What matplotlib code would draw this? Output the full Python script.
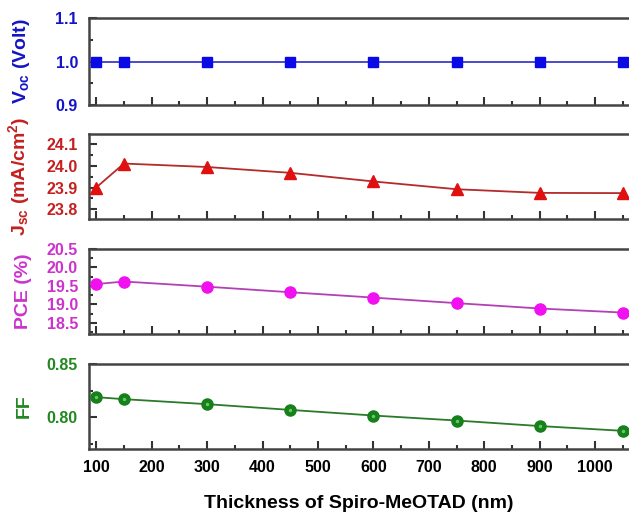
import numpy as np
import matplotlib
matplotlib.use("Agg")
import matplotlib.pyplot as plt
from matplotlib.ticker import MultipleLocator

plt.rcParams['font.family'] = ['Liberation Sans', 'DejaVu Sans']
plt.rcParams['font.weight'] = 'bold'
plt.rcParams['mathtext.fontset'] = 'custom'
plt.rcParams['mathtext.rm'] = 'Liberation Sans:bold'
plt.rcParams['mathtext.bf'] = 'Liberation Sans:bold'
plt.rcParams['mathtext.default'] = 'bf'

# spiro-MeOTAD thickness (nm) and device parameters
thickness = [100, 150, 300, 450, 600, 750, 900, 1050]
voc = [1.0, 1.0, 1.0, 1.0, 1.0, 1.0, 1.0, 1.0]
jsc = [23.90, 24.011, 23.995, 23.968, 23.928, 23.892, 23.875, 23.874]
pce = [19.55, 19.62, 19.48, 19.33, 19.185, 19.035, 18.89, 18.78]
ff = [0.8188, 0.8169, 0.8122, 0.8068, 0.8015, 0.7968, 0.7916, 0.7871]

W, H = 629, 513
fig = plt.figure(figsize=(W / 100, H / 100), dpi=100)

# panel extents in pixels (top, bottom)
rows = [(18, 105), (134, 219), (249, 334), (364, 449)]
left = 89

panels = [
    dict(y=voc, label='V$_{oc}$ (Volt)', marker='s', ms=7, mc='#0a0ae6', lc='#3d3dc8',
         tc='#1414c8', ylim=(0.9, 1.1), major=0.1, minor=0.05, fmt='%.1f'),
    dict(y=jsc, label='J$_{sc}$ (mA/cm$^2$)', marker='^', ms=9, mc='#e01010', lc='#b52a2a',
         tc='#c42020', ylim=(23.754, 24.148), major=0.1, minor=0.05, fmt='%.1f'),
    dict(y=pce, label='PCE (%)', marker='o', ms=8, mc='#f010f0', lc='#b540b5',
         tc='#cc33cc', ylim=(18.2, 20.5), major=0.5, minor=0.25, fmt='%.1f'),
    dict(y=ff, label='FF', marker='o', ms=8, mc='#16801a', lc='#2a7a2a',
         tc='#228822', ylim=(0.77, 0.85), major=0.05, minor=0.025, fmt='%.2f'),
]

axes = []
for (top, bot), p in zip(rows, panels):
    ax = fig.add_axes([left / W, 1 - bot / H, (W - left) / W, (bot - top) / H])
    ax.plot(thickness, p['y'], '-', color=p['lc'], lw=1.3, zorder=2)
    ax.plot(thickness, p['y'], p['marker'], ms=p['ms'], color=p['mc'],
            mec=p['mc'], zorder=3, clip_on=False)
    if p['label'] == 'FF':
        # small highlight to give the balls some shine
        ax.plot(thickness, p['y'], 'o', ms=2.5, color='#6cc46c', mec='none',
                zorder=4, clip_on=False)
    ax.set_xlim(87, 1061)
    ax.set_ylim(*p['ylim'])
    ax.xaxis.set_major_locator(MultipleLocator(100))
    ax.xaxis.set_minor_locator(MultipleLocator(50))
    ax.yaxis.set_major_locator(MultipleLocator(p['major']))
    ax.yaxis.set_minor_locator(MultipleLocator(p['minor']))
    ax.yaxis.set_major_formatter(matplotlib.ticker.FormatStrFormatter(p['fmt']))
    ax.tick_params(which='both', direction='in', top=False, right=False, width=1.5,
                   color='#333333')
    ax.tick_params(which='major', length=6)
    ax.tick_params(which='minor', length=3)
    ax.tick_params(axis='y', labelsize=11.5, labelcolor=p['tc'], pad=8)
    ax.tick_params(axis='x', labelsize=11.5, pad=8)
    for s in ['left', 'bottom', 'top']:
        ax.spines[s].set_linewidth(1.8)
        ax.spines[s].set_color('#444444')
    ax.spines['right'].set_visible(False)
    ax.set_ylabel(p['label'], color=p['tc'], fontsize=14, fontweight='bold')
    ax.yaxis.set_label_coords(-0.105, 0.5)
    if p is not panels[-1]:
        ax.tick_params(axis='x', labelbottom=False)
    axes.append(ax)

axes[-1].set_xlabel('Thickness of Spiro-MeOTAD (nm)', fontsize=14,
                    fontweight='bold', labelpad=14)

fig.savefig('out.png', dpi=100)
